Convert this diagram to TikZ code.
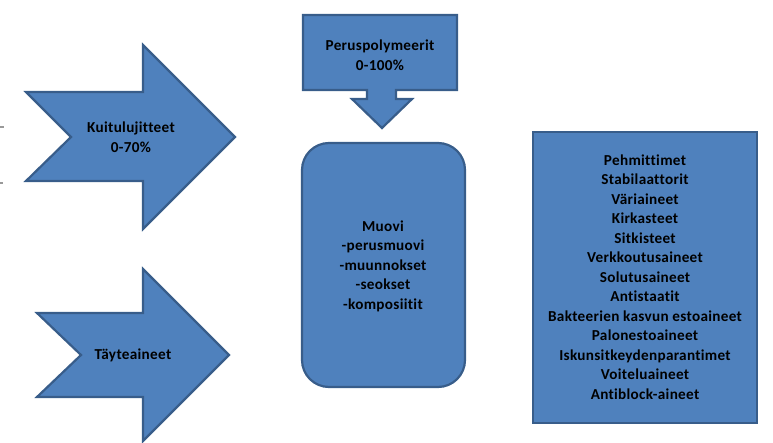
\documentclass[tikz,border=0pt]{standalone}
\usepackage{fontspec}
\setmainfont[Ligatures={NoCommon},LetterSpace=2]{Carlito}
\begin{document}
\begin{tikzpicture}[x=1pt,y=-1pt,
  shapebox/.style={fill=officeblue, draw=officeedge, line width=2.2pt, line join=miter},
  lbl/.style={font=\fontsize{15.2}{19.5}\selectfont\bfseries, text=black, align=center, inner sep=0pt},
  smudge/.style={draw=gray!80, line width=1.5pt}]
\definecolor{officeblue}{RGB}{79,129,189}
\definecolor{officeedge}{RGB}{56,93,138}
\useasboundingbox (0,0) rectangle (773,443);
% Kuitulujitteet arrow
\draw[shapebox] (26,92) -- (143,92) -- (143,45) -- (235,137) -- (143,229) -- (143,181) -- (26,181) -- (71,137) -- cycle;
\node[lbl] (kuitu) at (131,137) {Kuitulujitteet\\0-70\%};
% Täyteaineet arrow
\draw[shapebox] (37,313) -- (143,313) -- (143,269) -- (229,355) -- (143,441) -- (143,397) -- (37,397) -- (81,355) -- cycle;
\node[lbl] (tayte) at (133,355) {Täyteaineet};
% Peruspolymeerit callout
\draw[shapebox] (303,15) -- (457,15) -- (457,90) -- (396,90) -- (396,99) -- (412,99) -- (382,128) -- (352,99) -- (367,99) -- (367,90) -- (303,90) -- cycle;
\node[lbl] (perus) at (380,55) {Peruspolymeerit\\0-100\%};
% Muovi
\draw[shapebox, rounded corners=27pt] (302,143) rectangle (465,387);
\node[lbl] (muovi) at (383,266) {Muovi\\-perusmuovi\\-muunnokset\\-seokset\\-komposiitit};
% Lisäaineet box
\draw[shapebox] (533,132) rectangle (757,423);
\node[lbl] (lisa) at (645,277) {Pehmittimet\\Stabilaattorit\\Väriaineet\\Kirkasteet\\Sitkisteet\\Verkkoutusaineet\\Solutusaineet\\Antistaatit\\Bakteerien kasvun estoaineet\\Palonestoaineet\\Iskunsitkeydenparantimet\\Voiteluaineet\\Antiblock-aineet};
% edge smudges
\draw[smudge] (0,127) -- (4,127);
\draw[smudge] (0,183) -- (3,183);
\end{tikzpicture}
\end{document}
